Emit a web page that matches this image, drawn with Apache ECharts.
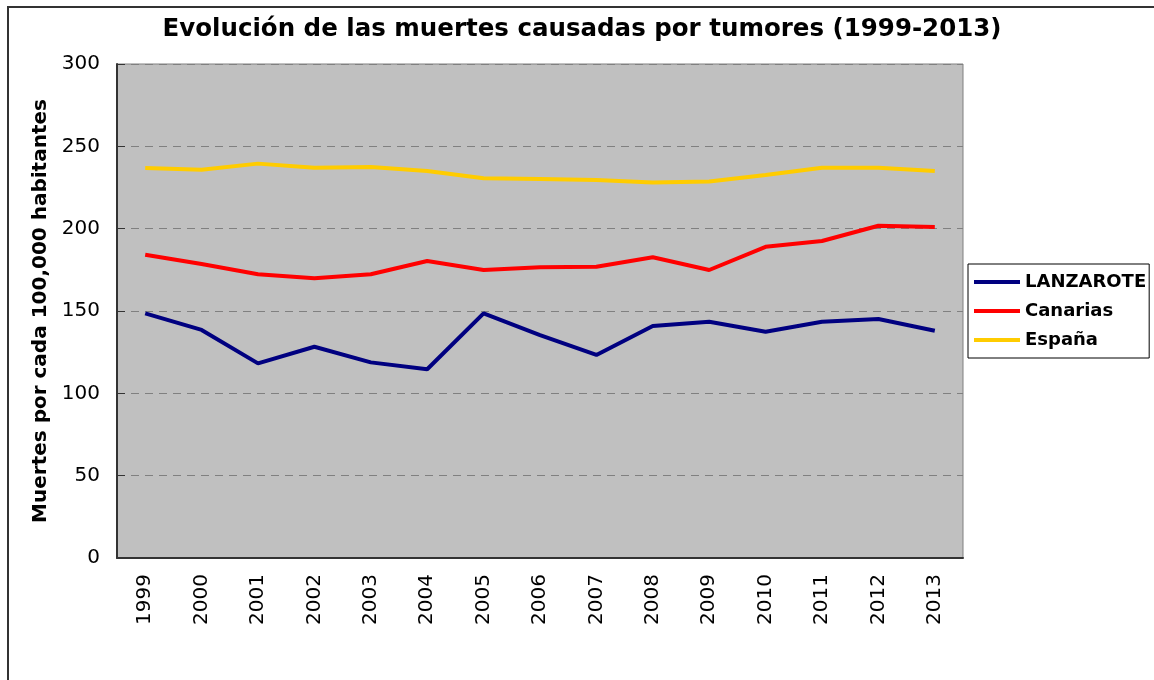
<!DOCTYPE html>
<html>
<head>
<meta charset="utf-8">
<script src="https://cdn.jsdelivr.net/npm/echarts@6/dist/echarts.min.js"></script>
<style>html,body{margin:0;padding:0;background:#fff;}#c{width:1154px;height:680px;}</style>
</head>
<body>
<div id="c"></div>
<script>
const years = ['1999','2000','2001','2002','2003','2004','2005','2006','2007','2008','2009','2010','2011','2012','2013'];
const lanzarote = [148.6,138.5,118.2,128.3,118.8,114.6,148.6,135.4,123.3,140.9,143.5,137.4,143.5,145.1,138.0];
const canarias = [184.2,178.5,172.3,169.9,172.3,180.4,174.9,176.5,176.9,182.6,174.9,189.0,192.5,201.8,201.0];
const espana = [236.8,235.8,239.5,237.0,237.4,235.0,230.6,230.2,229.5,228.1,228.7,232.6,237.0,237.0,235.0];
const yTicks = [0,50,100,150,200,250,300];
const seriesNames = ['LANZAROTE','Canarias','España'];

const FONT = 'DejaVu Sans';
const chart = echarts.init(document.getElementById('c'), null, {renderer:'canvas'});
chart.setOption({
  animation: false,
  backgroundColor: '#ffffff',
  textStyle: {fontFamily: FONT},
  graphic: [{
    type: 'rect', z: -10, silent: true,
    shape: {x: 8, y: 7, width: 1200, height: 700},
    style: {fill: '#ffffff', stroke: '#333333', lineWidth: 2}
  }],
  title: {
    text: 'Evolución de las muertes causadas por tumores (1999-2013)',
    left: 582, textAlign: 'center', top: 17, padding: 0,
    textStyle: {fontFamily: FONT, fontWeight: 'bold', fontSize: 24.5, color: '#000'}
  },
  legend: {
    orient: 'vertical', left: 968, top: 264,
    data: seriesNames,
    icon: 'rect', itemWidth: 46, itemHeight: 4, itemGap: 11,
    padding: [9, 3, 9, 6],
    backgroundColor: '#ffffff', borderColor: '#000000', borderWidth: 1,
    textStyle: {fontFamily: FONT, fontWeight: 'bold', fontSize: 18, color: '#000'}
  },
  grid: {
    left: 117, top: 64, right: 191, bottom: 122,
    show: true, backgroundColor: '#C0C0C0', borderColor: '#808080', borderWidth: 1,
    containLabel: false
  },
  xAxis: {
    type: 'category', data: years, boundaryGap: true,
    axisLine: {lineStyle: {color: '#333333', width: 2}},
    axisTick: {show: false},
    axisLabel: {rotate: 90, margin: 16, fontSize: 20, color: '#000', fontFamily: FONT}
  },
  yAxis: {
    type: 'value', min: yTicks[0], max: yTicks[yTicks.length-1], interval: yTicks[1]-yTicks[0],
    name: 'Muertes por cada 100,000 habitantes', nameLocation: 'middle', nameGap: 60,
    nameTextStyle: {fontFamily: FONT, fontWeight: 'bold', fontSize: 20, color: '#000'},
    axisLine: {show: true, lineStyle: {color: '#333333', width: 2}},
    axisTick: {show: true, inside: true, length: 8, lineStyle: {color: '#333333'}},
    axisLabel: {margin: 17, fontSize: 20, color: '#000', fontFamily: FONT},
    splitLine: {show: true, lineStyle: {color: '#808080', type: [8, 6], width: 1}}
  },
  series: [
    {name: seriesNames[0], type: 'line', data: lanzarote, showSymbol: false, color: '#000080', lineStyle: {width: 4, color: '#000080'}},
    {name: seriesNames[1], type: 'line', data: canarias, showSymbol: false, color: '#FF0000', lineStyle: {width: 4, color: '#FF0000'}},
    {name: seriesNames[2], type: 'line', data: espana, showSymbol: false, color: '#FFCC00', lineStyle: {width: 4, color: '#FFCC00'}}
  ]
});
</script>
</body>
</html>
